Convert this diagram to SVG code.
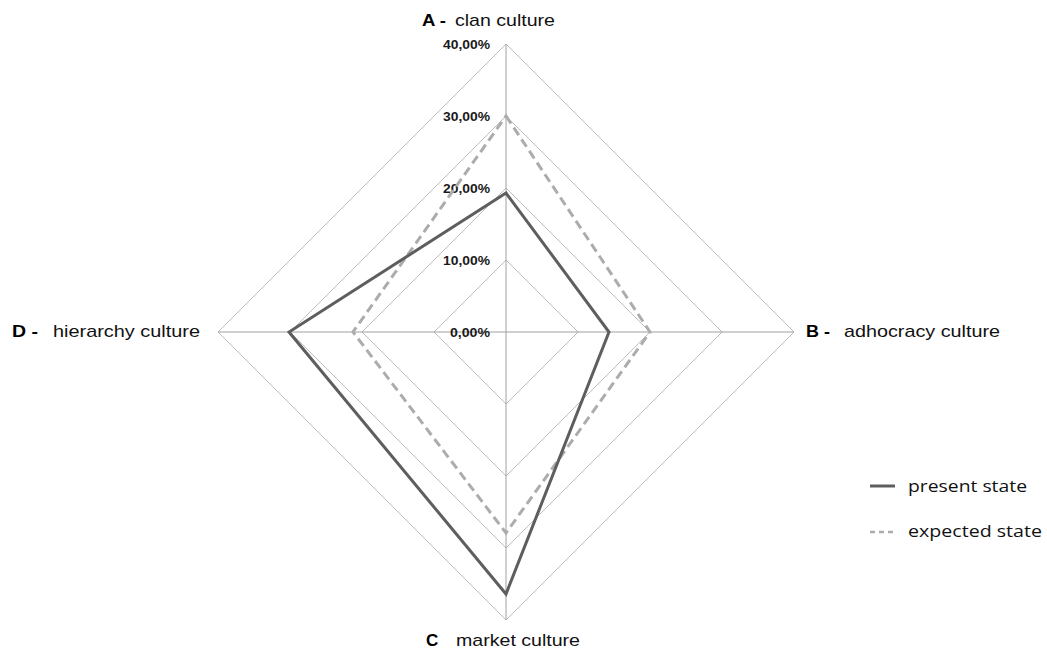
<svg xmlns="http://www.w3.org/2000/svg" width="1047" height="650" viewBox="0 0 1047 650">
<style>
.grid{fill:none;stroke:#bdbdbd;stroke-width:1}
.axis{stroke:#a0a0a0;stroke-width:1}
.pct{font-family:"Liberation Sans",Arial,sans-serif;font-size:13px;font-weight:bold;fill:#1a1a1a;text-anchor:end}
.lt{font-family:"Liberation Sans",Arial,sans-serif;font-size:17px;font-weight:bold;fill:#000}
.lab{font-family:"Liberation Sans",Arial,sans-serif;font-size:17px;fill:#111}
.leg{font-family:"Open Sans","Noto Sans",sans-serif;font-size:17px;fill:#111}
.present{fill:none;stroke:#5e5e5e;stroke-width:3;stroke-linejoin:miter}
.expected{fill:none;stroke:#acacac;stroke-width:3;stroke-dasharray:9,5}
</style>
<rect width="1047" height="650" fill="#fff"/>
<g id="grid">
<polygon class="grid" points="506,260 578,332 506,404 434,332"/>
<polygon class="grid" points="506,188 650,332 506,476 362,332"/>
<polygon class="grid" points="506,116 722,332 506,548 290,332"/>
<polygon class="grid" points="506,44 794,332 506,620 218,332"/>
<line class="axis" x1="506" y1="44" x2="506" y2="620"/>
<line class="axis" x1="218" y1="332" x2="794" y2="332"/>
</g>
<g id="scale">
<text class="pct" x="490" y="49" textLength="47" lengthAdjust="spacingAndGlyphs">40,00%</text>
<text class="pct" x="490" y="121" textLength="47" lengthAdjust="spacingAndGlyphs">30,00%</text>
<text class="pct" x="490" y="193" textLength="47" lengthAdjust="spacingAndGlyphs">20,00%</text>
<text class="pct" x="490" y="265" textLength="47" lengthAdjust="spacingAndGlyphs">10,00%</text>
<text class="pct" x="490" y="337" textLength="40" lengthAdjust="spacingAndGlyphs">0,00%</text>
</g>
<g id="series">
<polygon class="expected" points="506,116 650,332 506,533 353,332"/>
<polygon class="present" points="506,193 609,332 506,594 289,332"/>
</g>
<g id="label-A">
<text class="lt" x="422" y="26" textLength="24" lengthAdjust="spacingAndGlyphs">A -</text>
<text class="lab" x="455" y="26" textLength="100" lengthAdjust="spacingAndGlyphs">clan culture</text>
</g>
<g id="label-B">
<text class="lt" x="806" y="337" textLength="24" lengthAdjust="spacingAndGlyphs">B -</text>
<text class="lab" x="844" y="337" textLength="156" lengthAdjust="spacingAndGlyphs">adhocracy culture</text>
</g>
<g id="label-C">
<text class="lt" x="426" y="646">C</text>
<text class="lab" x="456" y="646" textLength="124" lengthAdjust="spacingAndGlyphs">market culture</text>
</g>
<g id="label-D">
<text class="lt" x="12" y="337" textLength="26" lengthAdjust="spacingAndGlyphs">D -</text>
<text class="lab" x="53" y="337" textLength="147" lengthAdjust="spacingAndGlyphs">hierarchy culture</text>
</g>
<g id="legend">
<line x1="870" y1="486" x2="895" y2="486" stroke="#5e5e5e" stroke-width="3"/>
<text class="leg" x="908" y="492" textLength="119" lengthAdjust="spacingAndGlyphs">present state</text>
<line x1="870" y1="532" x2="895" y2="532" stroke="#acacac" stroke-width="2.5" stroke-dasharray="5,4"/>
<text class="leg" x="908" y="537" textLength="134" lengthAdjust="spacingAndGlyphs">expected state</text>
</g>
</svg>
